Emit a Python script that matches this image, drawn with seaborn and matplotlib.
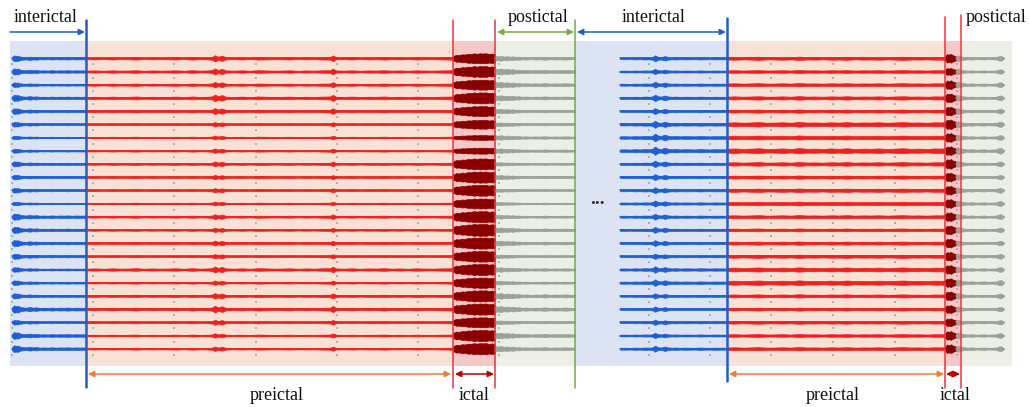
import numpy as np
import pandas as pd
import matplotlib.pyplot as plt
import seaborn as sns

# -------------------------------------------------------
# Layout in "time" units (one unit ~ one pixel of the original)
# -------------------------------------------------------
n_channels = 23
row_top, row_step = 58.3, 13.2

phases = ["interictal", "preictal", "ictal", "postictal"]
trace_colors = {"interictal": "#1f5fd2", "preictal": "#f2201c",
                "ictal": "#8a0000", "postictal": "#9ba398"}
bg_colors = {"interictal": "#dce3f3", "preictal": "#f8e1d5",
             "ictal": "#f4c8c6", "postictal": "#ebefe5"}

# shaded phase spans (start, end) for the two recordings
left_bg = [(10, 86), (86, 453), (453, 495), (495, 575)]
right_bg = [(575, 727), (727, 945), (945, 960), (960, 1012)]

# envelope knots (time) and relative amplitude
left_knots = {
    "interictal": [12, 14, 16, 18, 20, 23, 26, 30, 33, 36, 40, 44, 48, 52,
                   56, 60, 64, 68, 72, 76, 80, 86],
    "preictal": [86, 95, 104, 112, 120, 128, 136, 144, 152, 160, 168, 176,
                 184, 192, 200, 208, 212, 215, 218, 222, 226, 234, 242, 250,
                 258, 266, 274, 282, 290, 298, 306, 314, 322, 330, 333, 336,
                 344, 352, 360, 368, 376, 384, 392, 400, 408, 416, 424, 432,
                 440, 448, 453],
    "ictal": [453, 456, 459, 462, 465, 468, 471, 474, 477, 480, 483, 486,
              489, 492, 495],
    "postictal": [495, 498, 501, 504, 507, 510, 513, 516, 519, 522, 526, 530,
                  535, 540, 545, 550, 555, 560, 565, 570, 575],
}
left_pattern = {
    "interictal": [1.2, 2.6, 2.2, 2.4, 1.6, 1.2, 1.0, 1.5, 1.0, 1.3, 0.8, 1.0,
                   0.8, 1.1, 0.8, 1.0, 0.9, 1.1, 0.8, 1.0, 0.9, 1.0],
    "preictal": [0.8, 1.0, 0.7, 1.1, 0.8, 0.9, 1.2, 0.7, 1.0, 0.8, 0.9, 1.1,
                 0.7, 1.2, 0.8, 1.0, 1.3, 2.8, 1.4, 2.4, 1.0, 0.8, 1.1, 0.7,
                 1.2, 1.0, 0.8, 0.9, 1.1, 0.7, 1.0, 0.8, 1.1, 1.2, 2.6, 1.0,
                 0.8, 1.1, 0.7, 1.0, 0.9, 1.2, 0.8, 1.0, 0.7, 1.1, 0.9, 0.8,
                 1.0, 1.1, 1.3],
    "ictal": [0.4, 0.7, 0.65, 0.8, 0.75, 0.9, 0.85, 1.0, 0.9, 1.0, 0.95, 1.0,
              0.85, 0.95, 0.8],
    "postictal": [1.8, 1.5, 1.9, 1.3, 1.6, 1.2, 1.5, 1.0, 1.2, 0.8, 1.0, 0.7,
                  0.9, 0.8, 1.1, 0.7, 0.9, 0.8, 1.0, 0.8, 0.7],
}
left_scale = {
    "interictal": [1.1, 1.2, 0.9, 1.2, 1.1, 0.9, 0.7, 0.8, 1.0, 0.9, 0.9, 0.7,
                   1.2, 1.2, 1.2, 1.0, 0.9, 0.9, 1.0, 1.4, 0.9, 1.3, 1.3],
    "preictal": [1.1, 1.1, 1.0, 1.2, 1.1, 0.8, 0.7, 0.8, 0.9, 0.8, 0.8, 0.7,
                 0.9, 0.8, 0.9, 0.8, 1.1, 0.8, 1.0, 1.2, 0.9, 0.8, 0.8],
    "ictal": [5.0, 5.4, 5.0, 5.5, 5.0, 4.4, 2.4, 3.0, 5.5, 5.6, 5.5, 5.0,
              5.6, 6.0, 5.6, 5.4, 5.6, 5.2, 5.6, 5.6, 5.0, 5.6, 5.6],
    "postictal": [1.3, 1.6, 1.5, 1.4, 1.2, 1.0, 1.2, 1.2, 0.9, 1.1, 0.8, 0.8,
                  1.0, 1.3, 1.3, 0.9, 1.2, 1.0, 1.5, 1.6, 1.0, 1.5, 1.4],
}

right_knots = {
    "interictal": [620, 625, 630, 635, 640, 645, 650, 653, 655, 658, 661, 665,
                   668, 672, 676, 680, 685, 690, 695, 700, 705, 710, 715, 720,
                   727],
    "preictal": [727, 735, 743, 751, 759, 767, 775, 783, 791, 799, 807, 815,
                 823, 831, 839, 847, 855, 863, 871, 879, 887, 895, 903, 911,
                 919, 927, 935, 942, 945],
    "ictal": [945, 947, 949, 951, 953, 956],
    "postictal": [956, 958, 961, 964, 968, 972, 976, 980, 984, 988, 992, 996,
                  999, 1001, 1003, 1004],
}
right_pattern = {
    "interictal": [0.9, 1.0, 0.8, 1.1, 0.9, 1.2, 1.0, 1.6, 3.0, 1.5, 1.2, 2.2,
                   1.3, 1.0, 1.2, 0.9, 1.1, 1.0, 0.9, 1.2, 1.0, 0.9, 1.1, 1.0,
                   1.0],
    "preictal": [1.0, 1.2, 0.9, 1.1, 1.3, 0.9, 1.0, 1.2, 0.9, 1.4, 1.0, 1.1,
                 0.9, 1.2, 1.0, 1.3, 0.9, 1.1, 1.0, 1.2, 0.9, 1.1, 1.3, 1.0,
                 1.1, 0.9, 1.2, 1.1, 1.5],
    "ictal": [2.0, 4.2, 3.6, 4.4, 3.0, 2.2],
    "postictal": [2.6, 2.8, 2.0, 1.4, 1.0, 1.3, 0.8, 1.0, 1.2, 0.8, 1.0, 1.1,
                  2.2, 2.4, 1.2, 0.4],
}
right_scale = {
    "interictal": [1.0, 0.9, 1.0, 1.1, 1.0, 1.2, 1.3, 1.4, 1.1, 1.0, 1.0, 1.0,
                   1.0, 1.0, 1.0, 0.9, 1.1, 1.1, 0.9, 0.9, 0.9, 0.9, 1.0],
    "preictal": [1.2, 1.1, 1.2, 1.3, 1.2, 1.7, 1.5, 1.9, 1.4, 1.2, 1.3, 1.4,
                 1.2, 1.1, 1.2, 1.2, 1.6, 1.7, 1.2, 1.1, 1.1, 1.1, 1.2],
    "ictal": [1.0, 0.8, 1.0, 1.0, 1.0, 1.1, 1.0, 1.0, 1.1, 1.0, 1.0, 1.0,
              1.0, 1.0, 1.0, 1.0, 1.0, 1.0, 1.0, 0.9, 0.9, 1.0, 1.0],
    "postictal": [1.0, 0.9, 1.0, 1.0, 1.0, 1.1, 1.0, 1.2, 1.0, 0.9, 1.0, 1.0,
                  1.0, 1.0, 0.9, 1.0, 1.0, 1.1, 1.0, 0.9, 0.9, 1.0, 1.0],
}

# grey guide dots between rows
left_dots = [12, 93, 174, 256, 337, 418, 499]
right_dots = [649, 710, 771, 833, 895, 957]

# -------------------------------------------------------
# Figure
# -------------------------------------------------------
sns.set_style("white")
plt.rcParams["font.family"] = ["Liberation Serif", "DejaVu Serif"]

fig = plt.figure(figsize=(10.29, 4.07), dpi=100)
ax = fig.add_axes([0, 0, 1, 1])

# backgrounds
for spans in [left_bg, right_bg]:
    for ph, (a, b) in zip(phases, spans):
        ax.fill_between([a, b], 41, 366, color=bg_colors[ph], lw=0, zorder=0)

row_y = row_top + row_step * np.arange(n_channels)

# guide dots
for xs in [left_dots, right_dots]:
    gx, gy = np.meshgrid(xs, row_y + 6.0)
    ax.scatter(gx.ravel(), gy.ravel(), s=1.2, marker="s", color="#b0b0b0",
               lw=0, zorder=1)

# traces: centre lines through seaborn, envelopes with fill_between
rows = []
seg = 0
for knots, pattern, scale in [(left_knots, left_pattern, left_scale),
                              (right_knots, right_pattern, right_scale)]:
    for ph in phases:
        kx = np.array(knots[ph], dtype=float)
        kp = np.array(pattern[ph])
        for ch in range(n_channels):
            y = row_y[ch]
            amp = kp * scale[ph][ch]
            ax.fill_between(kx, y - amp, y + amp, color=trace_colors[ph],
                            lw=0.5, edgecolor=trace_colors[ph], zorder=2)
            rows.append({"t": kx[0], "y": y, "phase": ph, "seg": seg})
            rows.append({"t": kx[-1], "y": y, "phase": ph, "seg": seg})
            seg += 1
lines = pd.DataFrame(rows)
sns.lineplot(data=lines, x="t", y="y", hue="phase", units="seg",
             estimator=None, palette=trace_colors, legend=False, lw=1.1,
             sort=False, ax=ax, zorder=3)

# phase boundary lines
blue, red, green = "#1f5fc8", "#e8343c", "#70ad47"
orange, dark_red = "#ed7d31", "#c00000"
for x, c, y0, y1, lw in [(86, blue, 20, 387, 1.8), (453, red, 20, 388, 1.1),
                         (495, red, 20, 388, 1.1), (575, green, 20, 388, 1.1),
                         (727, blue, 18, 381, 1.8), (945, red, 17, 388, 1.1),
                         (961, red, 15, 388, 1.1)]:
    ax.plot([x, x], [y0, y1], color=c, lw=lw, zorder=4)


def arrow(x0, x1, y, color, both=True):
    ax.annotate("", xy=(x1, y), xytext=(x0, y),
                arrowprops=dict(arrowstyle="<|-|>" if both else "-|>",
                                color=color, lw=1.1, mutation_scale=9,
                                shrinkA=0, shrinkB=0), zorder=5)


arrow(10, 85, 32, blue, both=False)
arrow(497, 574, 32, green)
arrow(577, 726, 32, blue)
arrow(88, 451, 374, orange)
arrow(455, 494, 374, dark_red)
arrow(729, 944, 374, orange)
arrow(946, 960, 374, dark_red)

# labels
for x, y, s in [(46, 17, "interictal"), (538, 18, "postictal"),
                (654, 18, "interictal"), (996, 18, "postictal"),
                (277, 395, "preictal"), (474, 395, "ictal"),
                (833, 395, "preictal"), (955, 395, "ictal")]:
    ax.text(x, y, s, ha="center", va="center", fontsize=13, color="#111111")
ax.text(597, 200, "...", ha="center", va="center", fontsize=14,
        fontweight="bold", color="#333333")

ax.set_xlim(0, 1029)
ax.set_ylim(407, 0)
ax.axis("off")

plt.savefig("out.png", dpi=100)
